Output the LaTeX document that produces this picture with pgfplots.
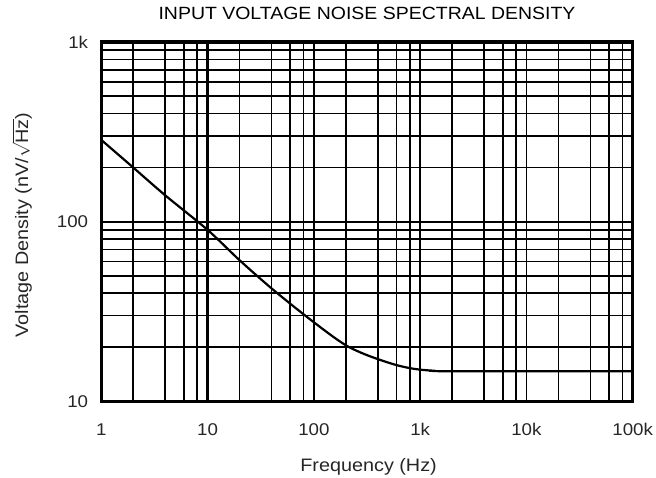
\documentclass[border=0pt]{standalone}
\usepackage{fontspec}
\setmainfont{Liberation Sans}[FakeStretch=1.1]
\usepackage{pgfplots}
\pgfplotsset{compat=1.18}
\begin{document}
\begin{tikzpicture}
\begin{loglogaxis}[
  name=ax,
  scale only axis,
  width=531.4pt, height=359.3pt,
  xmin=1, xmax=100000, ymin=10, ymax=1000,
  xtick={1,10,100,1000,10000,100000},
  xticklabels={1,10,100,1k,10k,100k},
  ytick={10,100,1000},
  yticklabels={10,100,1k},
  minor xtick={2,4,6,8,20,40,60,80,200,400,600,800,2000,4000,6000,8000,20000,40000,60000,80000},
  minor ytick={20,30,40,50,60,70,80,90,200,300,400,500,600,700,800,900},
  grid=both,
  major grid style={black, line width=1.8pt},
  minor grid style={black, line width=1.8pt},
  major tick length=0pt, minor tick length=0pt,
  axis line style={black, line width=3.2pt},
  extra x ticks={10},
  extra x tick labels={},
  extra x tick style={grid=major, major grid style={black, line width=3.2pt}},
  tick label style={font=\fontsize{17}{20}\selectfont, text=black!85},
  xticklabel style={anchor=base, yshift=-34pt},
  yticklabel style={anchor=east, inner sep=0pt, xshift=-13pt},
  title={INPUT VOLTAGE NOISE SPECTRAL DENSITY},
  title style={font=\fontsize{17.7}{21}\selectfont, anchor=base, at={(axis description cs:0.5,1.0465)}},
  xlabel={Frequency (Hz)},
  xlabel style={font=\fontsize{18}{21}\selectfont, text=black!85, anchor=base, at={(axis description cs:0.503,-0.1959)}},
  ylabel={Voltage Density (nV/$\sqrt{\hbox{Hz}}$)},
  ylabel style={font=\fontsize{18}{21}\selectfont, text=black!85, anchor=center, inner sep=0pt, at={(axis description cs:-0.1492,0.4907)}},
]
% input-referred noise: 1/f region falling into the white-noise floor
\addplot[black, line width=2.2pt, smooth, tension=0.5] coordinates {
  (1,285) (2,200) (4,140) (10,90) (20,61) (40,42.5) (80,30.5)
  (150,23) (212,20.1) (300,18.3) (420,17.0) (600,15.9) (800,15.3)
  (1000,15.0) (1350,14.8) (2000,14.7) (100000,14.7)
};
\end{loglogaxis}
\pgfresetboundingbox
\path[use as bounding box] ([shift={(-101.3pt,-75.7pt)}]ax.south west) rectangle ([shift={(23.3pt,42pt)}]ax.north east);
\end{tikzpicture}
\end{document}
